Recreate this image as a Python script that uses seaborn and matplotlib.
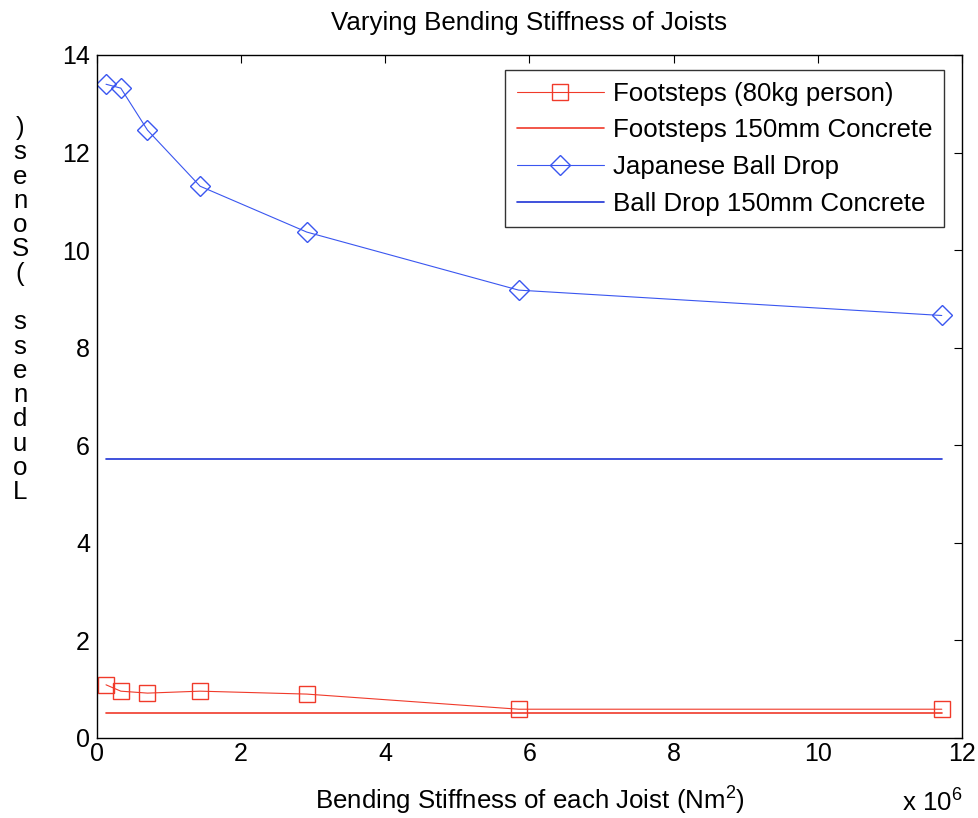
import matplotlib
matplotlib.use("Agg")
import matplotlib.pyplot as plt
import seaborn as sns
import numpy as np

# ---- data ----
stiffness = [0.125, 0.33, 0.70, 1.43, 2.91, 5.85, 11.72]   # x 10^6 Nm^2
footsteps = [1.09, 0.96, 0.92, 0.96, 0.90, 0.59, 0.59]
footsteps_concrete = [0.52] * 7
ball_drop = [13.40, 13.32, 12.46, 11.31, 10.37, 9.18, 8.66]
ball_drop_concrete = [5.71] * 7

title = "Varying Bending Stiffness of Joists"
xlabel = "Bending Stiffness of each Joist (Nm$^2$)"
ylabel = "Loudness (Sones)"
xticks = [0, 2, 4, 6, 8, 10, 12]
yticks = [0, 2, 4, 6, 8, 10, 12, 14]

sns.set_style("white")
plt.rcParams["font.family"] = ["Liberation Sans", "DejaVu Sans"]
plt.rcParams["mathtext.fontset"] = "custom"
plt.rcParams["mathtext.rm"] = "Liberation Sans"
plt.rcParams["text.color"] = "black"
plt.rcParams["axes.labelcolor"] = "black"

FS = 18
FS2 = 18.6
red = "#f03a2a"
blue = "#3a56f0"
blue_dark = "#1f33d6"

fig = plt.figure(figsize=(9.79, 8.18), dpi=100)
ax = fig.add_axes([0.0991, 0.0978, 0.9826 - 0.0991, 0.9328 - 0.0978])

sns.lineplot(x=stiffness, y=footsteps, ax=ax, sort=False, color=red, lw=0.8,
             marker="s", markersize=12, markerfacecolor="none",
             markeredgecolor=red, markeredgewidth=1.0,
             label="Footsteps (80kg person)")
sns.lineplot(x=stiffness, y=footsteps_concrete, ax=ax, sort=False, color=red, lw=1.2,
             label="Footsteps 150mm Concrete")
sns.lineplot(x=stiffness, y=ball_drop, ax=ax, sort=False, color=blue, lw=0.8,
             marker="D", markersize=10.5, markerfacecolor="none",
             markeredgecolor=blue, markeredgewidth=1.0,
             label="Japanese Ball Drop")
sns.lineplot(x=stiffness, y=ball_drop_concrete, ax=ax, sort=False, color=blue_dark, lw=1.2,
             label="Ball Drop 150mm Concrete")

ax.set_xlim(0, 12)
ax.set_ylim(0, 14)
ax.set_xticks(xticks)
ax.set_yticks(yticks)
ax.tick_params(direction="in", length=6, width=0.8, top=True, right=True,
               labelsize=FS, colors="black")
ax.tick_params(axis="x", pad=3)
ax.tick_params(axis="y", pad=5)
for s in ax.spines.values():
    s.set_visible(True)
    s.set_color("black")
    s.set_linewidth(1.0)

ax.set_title(title, fontsize=FS2, pad=18, color="black")
ax.set_xlabel(xlabel, fontsize=FS2, labelpad=12.5, color="black")
ax.set_ylabel("")

leg = ax.legend(loc="upper right", bbox_to_anchor=(0.979, 0.978), fontsize=FS2,
                frameon=True, fancybox=False, edgecolor="black",
                handlelength=3.35, handletextpad=0.35, labelspacing=0.49,
                borderpad=0.45, borderaxespad=0)
leg.get_frame().set_linewidth(1.0)
for t in leg.get_texts():
    t.set_color("black")

fig.text(902 / 979, 1 - 811 / 818, "x 10$^6$", fontsize=FS2, ha="left", va="baseline",
         color="black")
fig.text(20 / 979, 1 - 116 / 818, "\n".join(reversed(ylabel)), fontsize=FS2,
         ha="center", va="top", linespacing=1.015, multialignment="center", color="black")

fig.savefig("out.png", dpi=100)
